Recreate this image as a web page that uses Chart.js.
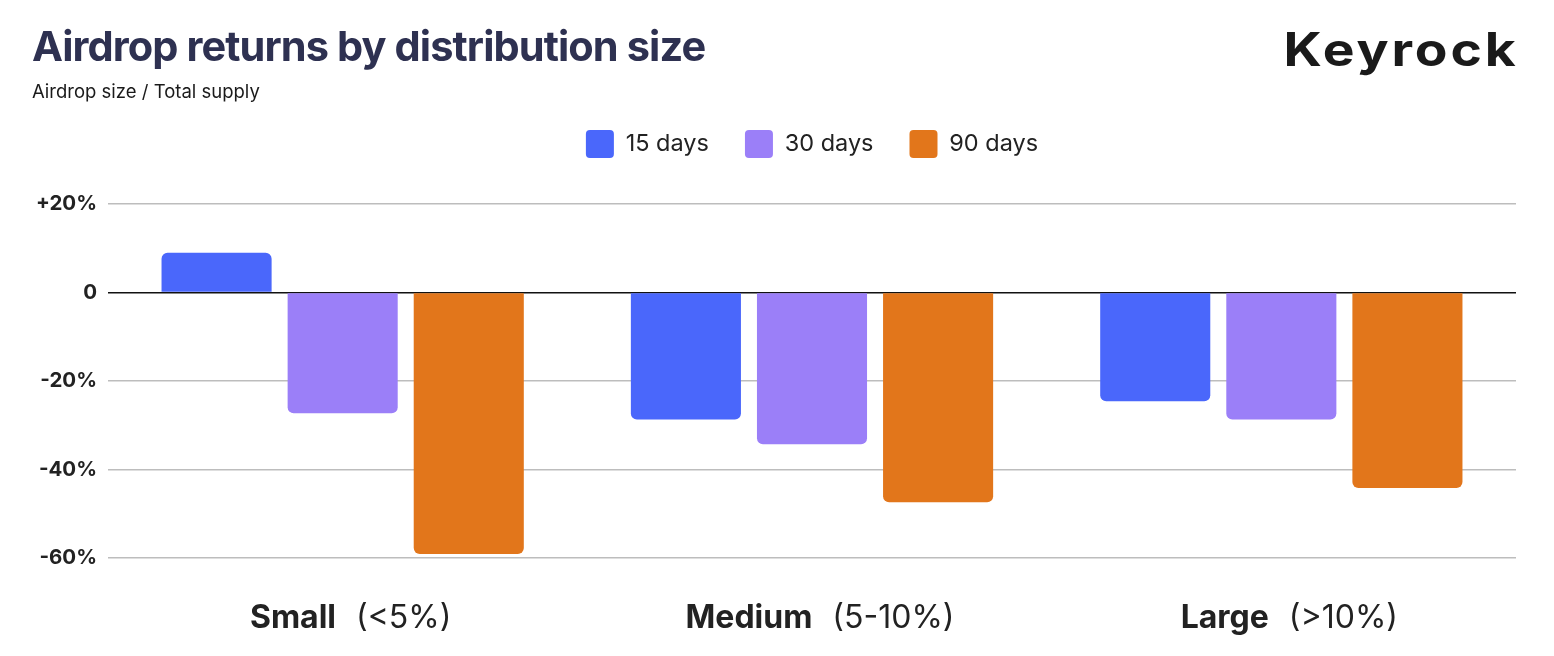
<!DOCTYPE html>
<html lang="en">
<head>
    <meta charset="UTF-8">
    <title>Airdrop returns by distribution size</title>
    <script src="https://cdn.jsdelivr.net/npm/chart.js"></script>
    <style>
        body {
            margin: 0;
            background: #ffffff;
            font-family: 'Inter', sans-serif;
        }

        .wrap {
            position: relative;
            width: 1554px;
            height: 656px;
        }

        h1 {
            position: absolute;
            left: 32px;
            top: 21px;
            margin: 0;
            font-size: 41.5px;
            font-weight: 700;
            letter-spacing: -0.9px;
            color: #2e3151;
        }

        .sub {
            position: absolute;
            left: 32px;
            top: 80px;
            font-size: 18.5px;
            color: #1a1a1a;
        }

        .logo {
            position: absolute;
            right: 35px;
            top: 21px;
            font-size: 46px;
            font-weight: 700;
            letter-spacing: 2.5px;
            color: #1a1a1a;
            transform: scaleX(1.16);
            transform-origin: right center;
        }

        canvas {
            position: absolute;
            left: 0;
            top: 0;
        }
    </style>
</head>
<body>
    <div class="wrap">
        <canvas id="airdropChart" width="1554" height="656"></canvas>
        <h1>Airdrop returns by distribution size</h1>
        <div class="sub">Airdrop size / Total supply</div>
        <div class="logo">Keyrock</div>
    </div>

    <script>
        const categories = ['Small', 'Medium', 'Large'];
        const categoryNotes = ['(<5%)', '(5-10%)', '(>10%)'];
        const seriesNames = ['15 days', '30 days', '90 days'];
        const days15 = [9, -28.7, -24.6];
        const days30 = [-27.3, -34.3, -28.7];
        const days90 = [-59.1, -47.4, -44.2];
        const colors = ['#4a67fb', '#9b7ff8', '#e2761b'];

        // taller legend block so the plot starts lower, legend nudged right
        const legendSpace = {
            id: 'legendSpace',
            beforeInit(chart) {
                const legend = chart.legend;
                const fit = legend.fit;
                legend.fit = function () {
                    fit.bind(this)();
                    this.height += 36;
                };
                const draw = legend.draw;
                legend.draw = function () {
                    const ctx = this.ctx;
                    ctx.save();
                    ctx.translate(54, 0);
                    draw.bind(this)();
                    ctx.restore();
                };
            }
        };

        // category labels: bold name + normal note
        const categoryLabels = {
            id: 'categoryLabels',
            afterDraw(chart) {
                const ctx = chart.ctx;
                const xScale = chart.scales.x;
                ctx.save();
                ctx.textBaseline = 'alphabetic';
                ctx.fillStyle = '#222222';
                categories.forEach((name, i) => {
                    const cx = xScale.getPixelForValue(i) + 8;
                    ctx.font = '700 32px Inter';
                    const w1 = ctx.measureText(name).width;
                    ctx.font = '400 32px Inter';
                    const gap = 20;
                    const w2 = ctx.measureText(categoryNotes[i]).width;
                    let x = cx - (w1 + gap + w2) / 2;
                    ctx.font = '700 32px Inter';
                    ctx.fillText(name, x, 628);
                    ctx.font = '400 32px Inter';
                    ctx.fillText(categoryNotes[i], x + w1 + gap, 628);
                });
                ctx.restore();
            }
        };

        const seriesData = [days15, days30, days90];

        new Chart(document.getElementById('airdropChart'), {
            type: 'bar',
            data: {
                labels: categories,
                datasets: seriesNames.map((name, i) => ({
                    label: name,
                    data: seriesData[i],
                    backgroundColor: colors[i],
                    borderRadius: 6,
                    borderSkipped: 'start',
                    barPercentage: 0.873,
                    categoryPercentage: 0.806
                }))
            },
            options: {
                responsive: false,
                animation: false,
                layout: {
                    padding: { top: 94, right: 38, bottom: 90, left: 0 }
                },
                plugins: {
                    title: { display: false },
                    tooltip: { enabled: false },
                    legend: {
                        position: 'top',
                        labels: {
                            boxWidth: 28,
                            boxHeight: 28,
                            padding: 36,
                            color: '#222222',
                            useBorderRadius: true,
                            borderRadius: 4,
                            font: { family: 'Inter', size: 23.5 }
                        }
                    }
                },
                scales: {
                    x: {
                        grid: { display: false },
                        border: { display: false },
                        ticks: { display: false }
                    },
                    y: {
                        min: -60,
                        max: 20,
                        afterFit(scale) { scale.width = 108; },
                        border: { display: false },
                        grid: {
                            drawTicks: false,
                            lineWidth: 1.5,
                            color: c => c.tick.value === 0 ? '#111111' : '#bdbdbd'
                        },
                        ticks: {
                            stepSize: 20,
                            padding: 11,
                            color: '#222222',
                            font: { family: 'Inter', size: 20.5, weight: '700' },
                            callback: v => v === 0 ? '0' : (v > 0 ? '+' + v + '%' : v + '%')
                        }
                    }
                }
            },
            plugins: [legendSpace, categoryLabels]
        });
    </script>
</body>
</html>
